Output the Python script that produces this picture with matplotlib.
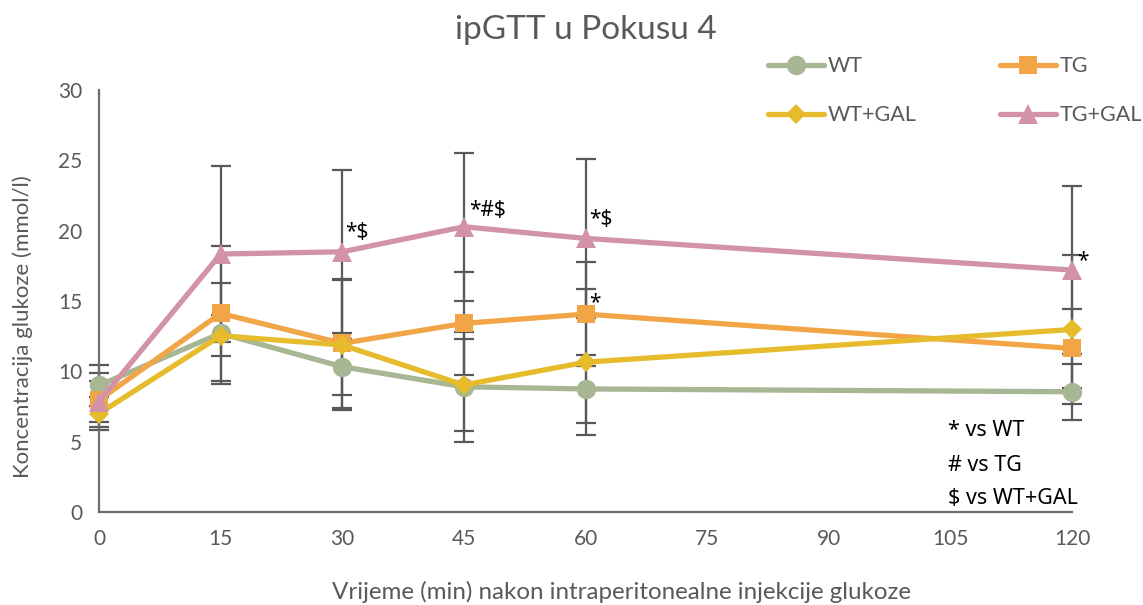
import matplotlib
matplotlib.use("Agg")
import matplotlib.pyplot as plt

plt.rcParams['font.family'] = ['Lato', 'DejaVu Sans']

# Time points (min) after glucose injection
time_min = [0, 15, 30, 45, 60, 120]
x_ticks = [0, 15, 30, 45, 60, 75, 90, 105, 120]

# Mean blood glucose (mmol/l) per group
wt_mean = [9.0, 12.7, 10.33, 8.9, 8.75, 8.55]
tg_mean = [7.96, 14.12, 11.99, 13.41, 14.07, 11.63]
wtgal_mean = [7.0, 12.53, 11.87, 9.03, 10.65, 12.98]
tggal_mean = [7.84, 18.34, 18.5, 20.28, 19.45, 17.2]

# Standard deviations
wt_sd = [1.45, 3.6, 2.0, 3.9, 2.4, 2.0]
tg_sd = [1.9, 4.8, 4.6, 3.65, 3.7, 2.8]
wtgal_sd = [1.2, 1.45, 4.6, 3.25, 5.2, 5.3]
tggal_sd = [1.45, 6.25, 5.8, 5.25, 5.65, 5.95]

series = [
    ("WT", wt_mean, wt_sd, "#A7B693", "o", 14),
    ("TG", tg_mean, tg_sd, "#F2A546", "s", 13),
    ("WT+GAL", wtgal_mean, wtgal_sd, "#E6BC2C", "D", 10),
    ("TG+GAL", tggal_mean, tggal_sd, "#D292A8", "^", 14),
]

# Significance marks: (x, y, text)
sig_marks = [
    (30.3, 19.9, "*$"),
    (45.6, 21.4, "*#$"),
    (60.4, 20.8, "*$"),
    (60.4, 14.9, "*"),
    (120.6, 17.9, "*"),
]
notes = ["* vs WT", "# vs TG", "$ vs WT+GAL"]
mark_font = ['Noto Sans', 'DejaVu Sans']

fig = plt.figure(figsize=(11.43, 6.05), dpi=100)
ax = fig.add_axes([0.0866, 0.1537, 0.8513, 0.6975])

err_color = "#595959"
handles = {}
for name, mean, sd, color, marker, ms in series:
    ax.errorbar(time_min, mean, yerr=sd, fmt="none", ecolor=err_color,
                elinewidth=1.6, capsize=7, capthick=1.6, zorder=2,
                clip_on=False)
for name, mean, sd, color, marker, ms in series:
    ln, = ax.plot(time_min, mean, color=color, lw=3.8, marker=marker,
                  markersize=ms, markeredgewidth=0, zorder=3,
                  solid_capstyle="round", clip_on=False)
    handles[name] = ln

for x, y, t in sig_marks:
    ax.text(x, y, t, fontsize=15, color="black", ha="left", va="center",
            family=mark_font)

note_y = [0.194, 0.111, 0.033]
for t, y in zip(notes, note_y):
    ax.text(0.8726, y, t, transform=ax.transAxes, family=mark_font,
            fontsize=15.5, color="black", ha="left", va="center")

ax.set_xlim(0, 120)
ax.set_ylim(0, 30)
ax.set_xticks(x_ticks)
ax.set_yticks([0, 5, 10, 15, 20, 25, 30])
ax.tick_params(axis="both", length=0, labelsize=15, colors="#595959", pad=12)

for side in ["top", "right"]:
    ax.spines[side].set_visible(False)
ax.spines["left"].set_color("#6E6E6E")
ax.spines["left"].set_linewidth(1.6)
ax.spines["bottom"].set_color("#6E6E6E")
ax.spines["bottom"].set_linewidth(1.6)

ax.set_ylabel("Koncentracija glukoze (mmol/l)", fontsize=16, color="#595959")
ax.yaxis.set_label_coords(-0.068, 0.44)
ax.set_xlabel("Vrijeme (min) nakon intraperitonealne injekcije glukoze",
              fontsize=17.4, color="#595959")
ax.xaxis.set_label_coords(0.5375, -0.164)
fig.text(0.513, 0.95, "ipGTT u Pokusu 4", fontsize=24, color="#595959",
         ha="center", va="center")

order = ["WT", "WT+GAL", "TG", "TG+GAL"]
leg = fig.legend([handles[k] for k in order], order, ncol=2,
                 loc="upper left", bbox_to_anchor=(0.672, 0.907),
                 frameon=False, fontsize=15.5, handlelength=2.6,
                 columnspacing=3.9, labelspacing=1.35, handletextpad=0.15,
                 borderpad=0, borderaxespad=0)
for txt in leg.get_texts():
    txt.set_color("#595959")

fig.savefig("out.png", dpi=100)
